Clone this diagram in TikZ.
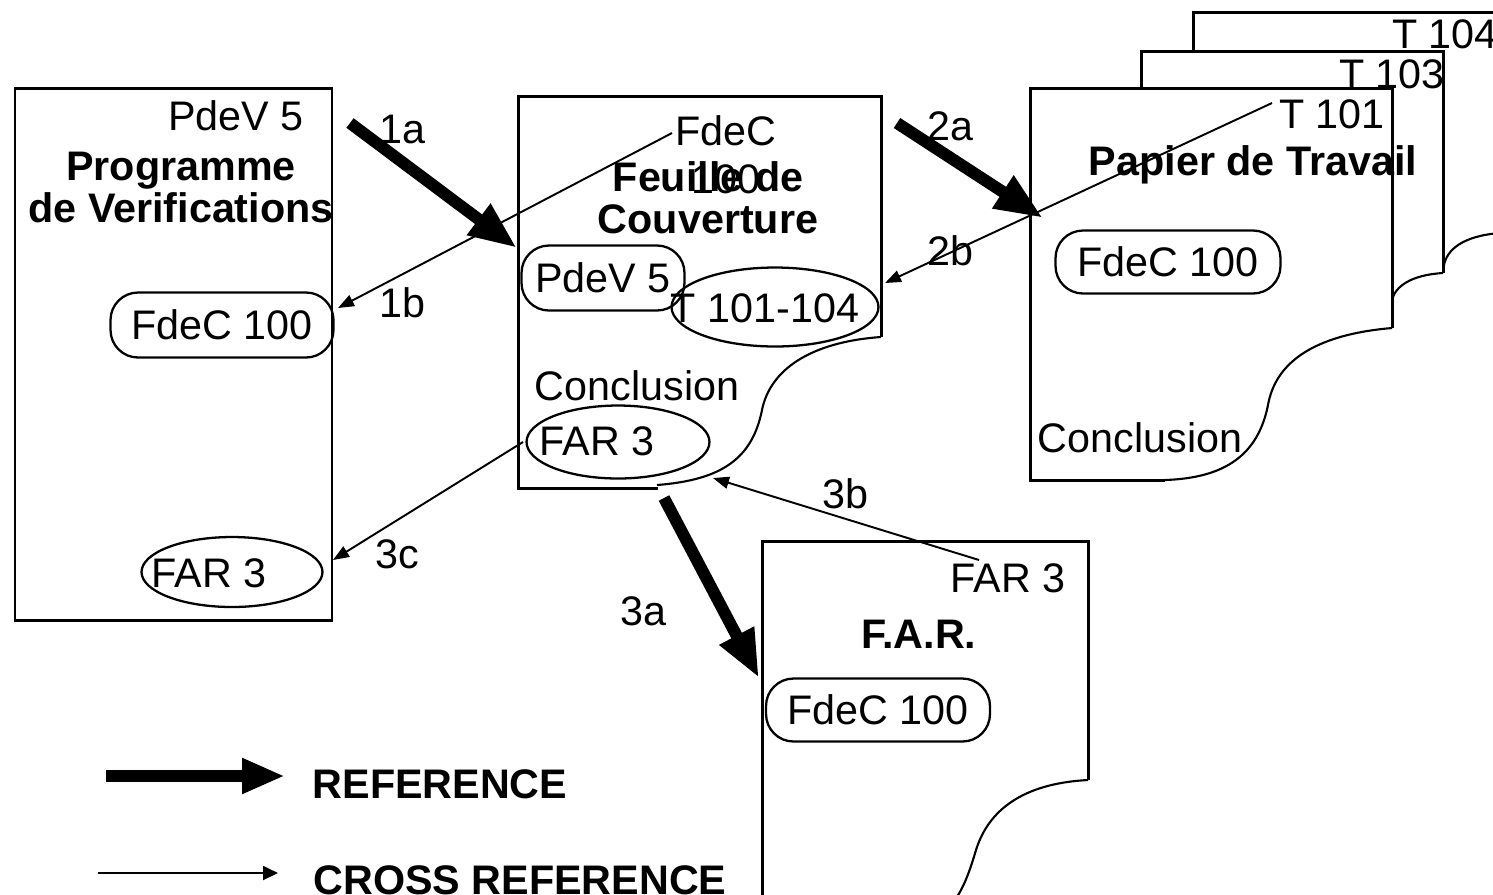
\documentclass[tikz,border=0pt]{standalone}
\usepackage{fontspec}
\setmainfont{Liberation Sans}
\usetikzlibrary{arrows.meta,shapes.geometric}
\begin{document}
\begin{tikzpicture}[x=0.02cm,y=-0.02cm,
  every node/.style={font=\fontsize{23.5}{24}\selectfont, inner sep=0pt},
  txt/.style={anchor=base},
  ttl/.style={anchor=base, align=center, font=\fontsize{23.5}{23.8}\selectfont\bfseries},
  page/.style={line width=1.7pt, line join=miter},
  curl/.style={line width=1.2pt},
  oval/.style={draw, ellipse, line width=1.3pt},
  pill/.style={draw, rectangle, rounded corners=0.55cm, line width=1.3pt},
  refarrow/.style={line width=6.8pt, -{Triangle[length=0.96cm,width=0.72cm]}},
  xref/.style={line width=1.1pt, -{Triangle[length=0.32cm,width=0.24cm]}},
]
\useasboundingbox (0,0) rectangle (1493,894);

% ---------- Programme de Verifications ----------
\draw[page] (15,88) rectangle (332,620);
\node[txt] (pdvL) at (236,130) {PdeV 5};
\node[ttl] (prog) at (181,222) {Programme\\de Verifications};
\node[pill, minimum width=4.46cm, minimum height=1.3cm] (fdcL) at (222,325) {FdeC 100};
\node[oval, minimum width=3.62cm, minimum height=1.4cm] (farL) at (232,572) {};
\node[txt] (farLt) at (209,587) {FAR 3};

% ---------- Feuille de Couverture ----------
\draw[page] (658,488) -- (518,488) -- (518,96) -- (881,96) -- (881,337);
\draw[curl] (881,337) .. controls (810,342) and (770,370) .. (762,410)
            .. controls (752,460) and (720,480) .. (657,485);
\node[anchor=base, align=center, font=\fontsize{23.5}{27.2}\selectfont] (fdcF) at (726,193) {FdeC\\100};
\node[ttl] (feu) at (708,233) {Feuille de\\Couverture};
\node[pill, minimum width=3.26cm, minimum height=1.3cm] (pdvF) at (603,278) {PdeV 5};
\node[oval, minimum width=4.14cm, minimum height=1.58cm] (tF) at (775,307) {};
\node[txt] (tFt) at (765,322) {T 101-104};
\node[txt] (concF) at (637,400) {Conclusion};
\node[oval, minimum width=3.66cm, minimum height=1.46cm] (farF) at (618,442) {};
\node[txt] (farFt) at (597,455) {FAR 3};

% ---------- Papier de Travail (stack) ----------
\draw[page] (1193,50) -- (1193,12) -- (1500,12);
\draw[page] (1141,88) -- (1141,51) -- (1443,51) -- (1443,273);
\draw[curl] (1500,233) .. controls (1462,236) and (1447,250) .. (1444,265);
\draw[curl] (1443,273) .. controls (1410,275) and (1395,287) .. (1392,300);
\draw[page] (1165,480) -- (1030,480) -- (1030,88) -- (1392,88) -- (1392,328);
\draw[curl] (1392,328) .. controls (1310,335) and (1275,365) .. (1268,405)
            .. controls (1258,455) and (1225,478) .. (1165,480);
\node[txt] (t104) at (1445,48) {T 104};
\node[txt] (t103) at (1392,88) {T 103};
\node[txt] (t101) at (1332,128) {T 101};
\node[ttl] (pdt) at (1253,175) {Papier de Travail};
\node[pill, minimum width=4.5cm, minimum height=1.26cm] (fdcP) at (1168,262) {FdeC 100};
\node[txt] (concP) at (1140,452) {Conclusion};

% ---------- F.A.R. ----------
\draw[page] (762,900) -- (762,541) -- (1088,541) -- (1088,780);
\draw[curl] (1088,780) .. controls (1030,783) and (990,805) .. (976,850)
            .. controls (970,870) and (965,885) .. (955,900);
\node[txt] (farR) at (1008,592) {FAR 3};
\node[ttl] (farT) at (919,648) {F.A.R.};
\node[pill, minimum width=4.48cm, minimum height=1.26cm] (fdcR) at (878,710) {FdeC 100};

% ---------- connectors ----------
\coordinate (a1s) at (350,123); \coordinate (a1e) at (517,248);
\coordinate (b1s) at (672,133); \coordinate (b1e) at (338,308);
\coordinate (a2s) at (897,123); \coordinate (a2e) at (1043,218);
\coordinate (b2s) at (1272,103); \coordinate (b2e) at (885,283);
\coordinate (a3s) at (664,498); \coordinate (a3e) at (759,678);
\coordinate (b3s) at (979,560); \coordinate (b3e) at (713,478);
\coordinate (c3s) at (523,442); \coordinate (c3e) at (333,560);

\draw[refarrow] (a1s) -- (a1e);
\draw[refarrow] (a2s) -- (a2e);
\draw[refarrow] (a3s) -- (a3e);
\draw[xref] (b1s) -- (b1e);
\draw[xref] (b2s) -- (b2e);
\draw[xref] (b3s) -- (b3e);
\draw[xref] (c3s) -- (c3e);

\node[txt] (l1a) at (402,143) {1a};
\node[txt] (l1b) at (402,317) {1b};
\node[txt] (l2a) at (950,140) {2a};
\node[txt] (l2b) at (950,265) {2b};
\node[txt] (l3a) at (643,625) {3a};
\node[txt] (l3b) at (845,508) {3b};
\node[txt] (l3c) at (397,568) {3c};

% ---------- legend ----------
\coordinate (g1s) at (106,776); \coordinate (g1e) at (285,776);
\coordinate (g2s) at (98,873);  \coordinate (g2e) at (278,873);
\draw[line width=6.8pt, -{Triangle[length=0.86cm,width=0.66cm]}] (g1s) -- (g1e);
\draw[line width=1.1pt, -{Triangle[length=0.3cm,width=0.28cm]}] (g2s) -- (g2e);
\node[ttl] (gref) at (440,798) {REFERENCE};
\node[ttl] (gxref) at (520,894) {CROSS REFERENCE};
\end{tikzpicture}
\end{document}
